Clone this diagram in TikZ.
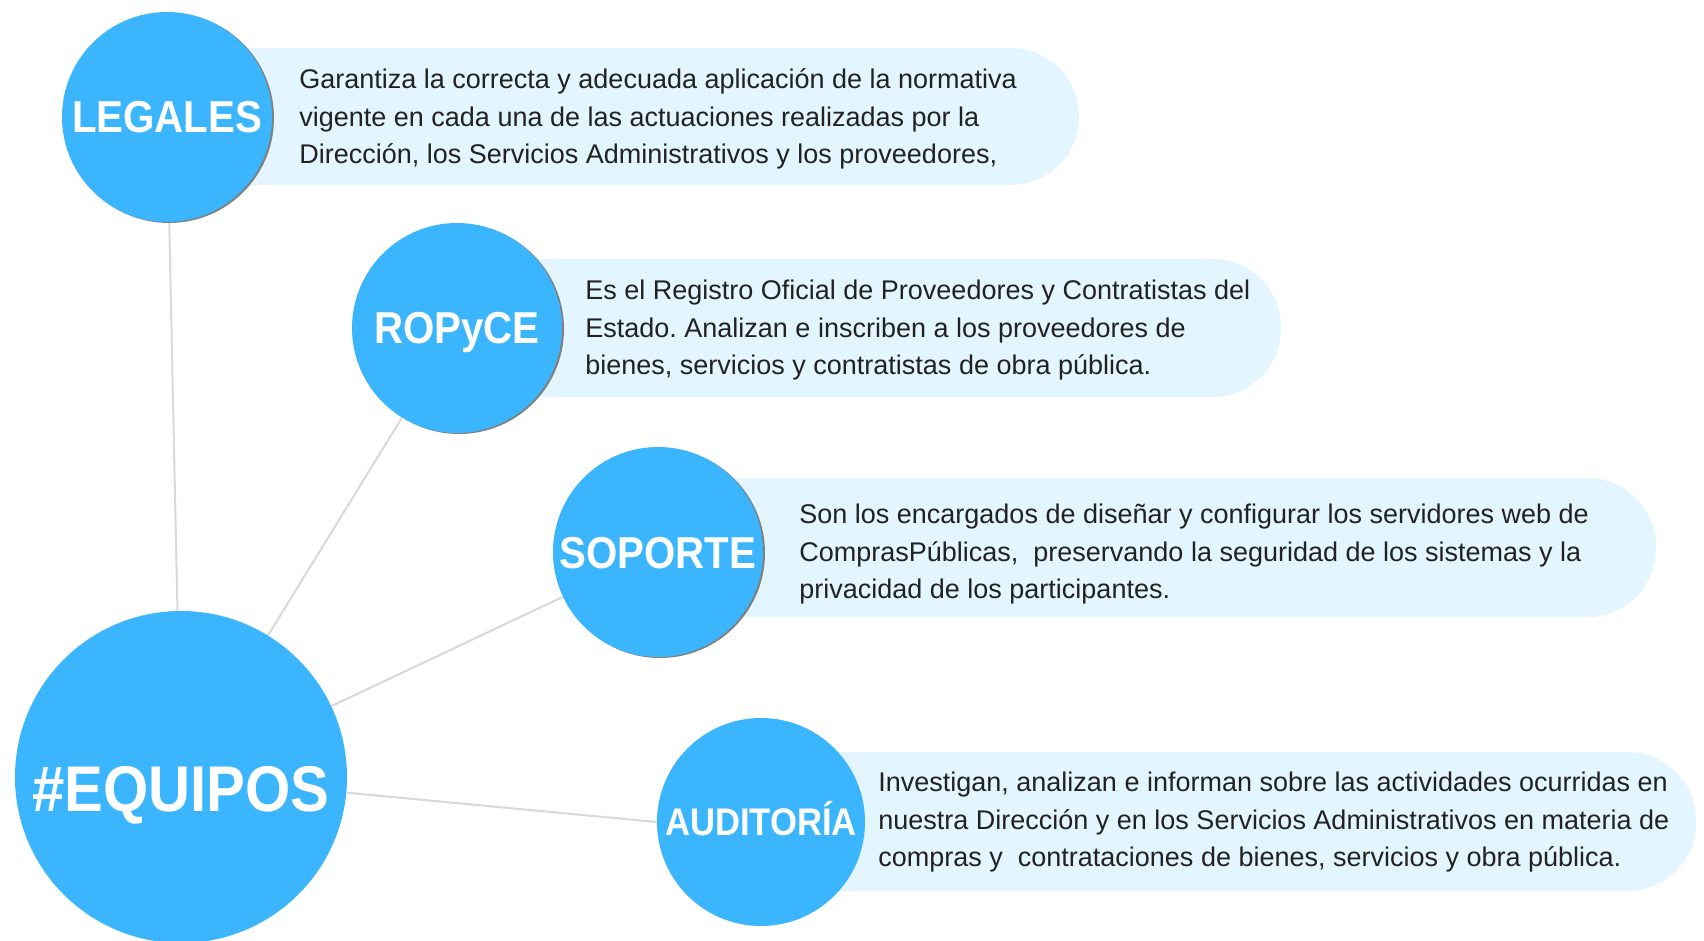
\documentclass[tikz,border=0pt]{standalone}
\usepackage{fontspec}
\setmainfont{Liberation Sans}
\newfontfamily\titlefont{Liberation Sans}[FakeStretch=0.9]
\usetikzlibrary{backgrounds,shadows}
\definecolor{circ}{RGB}{59,182,254}
\definecolor{boxf}{RGB}{227,245,254}
\definecolor{connc}{RGB}{217,217,217}
\definecolor{shad}{RGB}{128,128,128}
\definecolor{txt}{RGB}{34,34,34}
\frenchspacing
\begin{document}
\begin{tikzpicture}[x=0.5pt,y=-0.5pt,
  team/.style={circle, fill=circ, inner sep=0pt, text=white,
    font=\titlefont\bfseries\fontsize{22.35}{24}\selectfont,
    text depth=0pt, text height=16pt},
  shadowed/.style={drop shadow={shadow xshift=1pt, shadow yshift=-0.5pt, fill=shad, opacity=1}},
  desc/.style={anchor=west, align=left, text=txt, inner sep=0pt,
    font=\fontsize{13.5}{18.75}\selectfont},
  conn/.style={draw=connc, line width=1pt},
  pill/.style={fill=boxf, rounded corners=34.25pt}]
\useasboundingbox (0,0) rectangle (1704,941);
% description bands
\fill[pill] (167,48) rectangle (1079,185);
\fill[pill] (457,259) rectangle (1281,397);
\fill[pill] (658,478) rectangle (1656,617);
\fill[pill] (761,752) rectangle (1696,891);
% circles
\node[team, minimum size=105pt, shadowed] (legales) at (167,117) {LEGALES};
\node[team, minimum size=105pt, shadowed] (ropyce) at (457,328) {ROPyCE};
\node[team, minimum size=105pt, shadowed] (soporte) at (658,552) {SOPORTE};
\node[team, minimum size=104pt, font=\titlefont\bfseries\fontsize{19.25}{21}\selectfont, text height=13.8pt] (auditoria) at (761,822) {AUDITORÍA};
\node[team, minimum size=166pt, font=\titlefont\bfseries\fontsize{32.3}{34}\selectfont, text height=34.1pt] (equipos) at (181,777) {\#EQUIPOS};
% texts
\node[desc] (tlegales) at (299,119) {Garantiza la correcta y adecuada aplicación de la normativa\\vigente en cada una de las actuaciones realizadas por la\\Dirección, los Servicios Administrativos y los proveedores,};
\node[desc] (tropyce) at (585,330.5) {Es el Registro Oficial de Proveedores y Contratistas del\\Estado. Analizan e inscriben a los proveedores de\\bienes, servicios y contratistas de obra pública.};
\node[desc] (tsoporte) at (799,554.5) {Son los encargados de diseñar y configurar los servidores web de\\ComprasPúblicas,~ preservando la seguridad de los sistemas y la\\privacidad de los participantes.};
\node[desc] (taud) at (878,822.5) {Investigan, analizan e informan sobre las actividades ocurridas en\\nuestra Dirección y en los Servicios Administrativos en materia de\\compras y~ contrataciones de bienes, servicios y obra pública.};
% background and connectors
\begin{scope}[on background layer]
\fill[white] (0,0) rectangle (1704,941);
\draw[conn] (equipos) -- (legales);
\draw[conn] (equipos) -- (ropyce);
\draw[conn] (equipos) -- (soporte);
\draw[conn] (equipos) -- (auditoria.west);
\end{scope}
\end{tikzpicture}
\end{document}
